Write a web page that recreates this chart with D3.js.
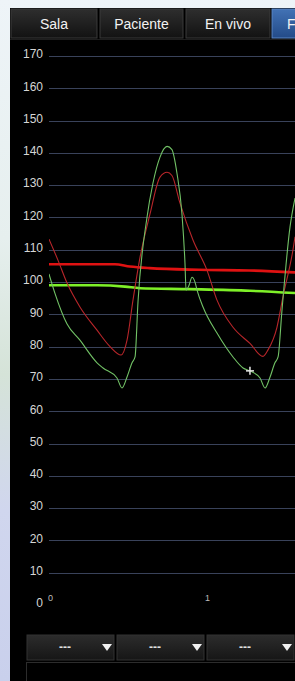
<!DOCTYPE html>
<html lang="es">
<head>
<meta charset="utf-8">
<title>En vivo</title>
<script src="https://d3js.org/d3.v7.min.js"></script>
<style>
  body { margin: 0; padding: 0; background: #eef3f6; overflow: hidden; }
  svg { display: block; font-family: "Liberation Sans", Arial, sans-serif; }
</style>
</head>
<body>
<script>
// tabs and axis
var tabs = ["Sala", "Paciente", "En vivo", "F"];
var yTicks = [0, 10, 20, 30, 40, 50, 60, 70, 80, 90, 100, 110, 120, 130, 140, 150, 160, 170];
var xTicks = [0, 1];
var dropdowns = ["---", "---", "---"];

// thin red waveform (time s, value)
var redT = [0, 0.057, 0.115, 0.197, 0.306, 0.389, 0.459, 0.497, 0.535, 0.580, 0.643, 0.707, 0.752, 0.783, 0.834, 0.917, 1.006, 1.070, 1.172, 1.280, 1.363, 1.395, 1.452, 1.490, 1.554, 1.567];
var redV = [113.3, 106.8, 99.7, 92.3, 85.1, 80, 77.4, 82, 94.4, 107.7, 121, 132.5, 134, 133, 124.5, 113, 103.7, 94.4, 86, 81, 77, 79, 86, 95.4, 110, 114];

// thin green waveform
var greenT = [0, 0.038, 0.115, 0.197, 0.306, 0.344, 0.433, 0.465, 0.497, 0.529, 0.548, 0.567, 0.624, 0.662, 0.707, 0.752, 0.783, 0.815, 0.847, 0.866, 0.873, 0.892, 0.911, 0.930, 0.943, 0.981, 1.070, 1.172, 1.236, 1.280, 1.344, 1.376, 1.408, 1.439, 1.459, 1.484, 1.535, 1.567];
var greenV = [102.5, 96.5, 87, 82, 75, 73.4, 70.3, 67.2, 70.6, 75, 76.8, 94, 120, 130.6, 138.7, 142, 141, 133.7, 121, 106, 97.5, 99, 101.5, 100, 97.5, 92.3, 84.2, 76.8, 73.4, 72.5, 70.3, 67.2, 70.6, 75, 76.8, 91.3, 117, 126];

// thick trend lines
var redMeanT = [0, 0.420, 0.515, 0.640, 0.955, 1.274, 1.567];
var redMeanV = [105.5, 105.5, 104.8, 104.3, 103.8, 103.6, 103];
var greenMeanT = [0, 0.306, 0.484, 0.580, 0.898, 1.280, 1.567];
var greenMeanV = [99, 99, 98.6, 98.1, 97.8, 97.3, 96.6];

// cursor marker
var markT = [1.280];
var markV = [72.5];

var W = 295, H = 681;
var svg = d3.select("body").append("svg").attr("width", W).attr("height", H);
var defs = svg.append("defs");

var bg = defs.append("linearGradient").attr("id", "bg").attr("x1", 0).attr("y1", 0).attr("x2", 0).attr("y2", 1);
bg.append("stop").attr("offset", "0").attr("stop-color", "#eef4f8");
bg.append("stop").attr("offset", "0.35").attr("stop-color", "#e6efee");
bg.append("stop").attr("offset", "0.55").attr("stop-color", "#d5e3d8");
bg.append("stop").attr("offset", "0.75").attr("stop-color", "#d0d6ee");
bg.append("stop").attr("offset", "1").attr("stop-color", "#c9d0ec");

var tabG = defs.append("linearGradient").attr("id", "tabG").attr("x1", 0).attr("y1", 0).attr("x2", 0).attr("y2", 1);
tabG.append("stop").attr("offset", "0").attr("stop-color", "#2e2e2e");
tabG.append("stop").attr("offset", "1").attr("stop-color", "#121212");

var tabB = defs.append("linearGradient").attr("id", "tabB").attr("x1", 0).attr("y1", 0).attr("x2", 0).attr("y2", 1);
tabB.append("stop").attr("offset", "0").attr("stop-color", "#4272b5");
tabB.append("stop").attr("offset", "1").attr("stop-color", "#234b88");

var ddG = defs.append("linearGradient").attr("id", "ddG").attr("x1", 0).attr("y1", 0).attr("x2", 0).attr("y2", 1);
ddG.append("stop").attr("offset", "0").attr("stop-color", "#2c2c2c");
ddG.append("stop").attr("offset", "1").attr("stop-color", "#161616");

defs.append("clipPath").attr("id", "plotClip")
  .append("rect").attr("x", 49).attr("y", 40).attr("width", W - 49).attr("height", 580);

// background and black panel
svg.append("rect").attr("width", W).attr("height", H).attr("fill", "url(#bg)");
svg.append("rect").attr("x", 10).attr("y", 8).attr("width", W - 10).attr("height", H - 8).attr("fill", "#000");

// tabs
var tabX = [11, 100, 186, 272];
var tabW = [86, 83, 84, 30];
var tg = svg.append("g");
tabs.forEach(function(t, i) {
  tg.append("rect")
    .attr("x", tabX[i]).attr("y", 9).attr("width", tabW[i]).attr("height", 29)
    .attr("fill", i == 3 ? "url(#tabB)" : "url(#tabG)")
    .attr("stroke", i == 3 ? "#5a86c4" : "#3a3a3a").attr("stroke-width", 1);
  tg.append("text")
    .attr("x", i == 3 ? 287 : tabX[i] + tabW[i] / 2).attr("y", 29)
    .attr("text-anchor", i == 3 ? "start" : "middle")
    .attr("fill", "#f2f2f2").attr("font-size", "14px")
    .text(t);
});
svg.append("line").attr("x1", 10).attr("x2", W).attr("y1", 39.5).attr("y2", 39.5).attr("stroke", "#1e1e1e");

// scales
var x = d3.scaleLinear().domain([0, 1]).range([49, 206]);
var y = d3.scaleLinear().domain([0, 170]).range([605, 56]);

// grid
svg.append("g").selectAll("line")
  .data(yTicks.filter(function(d) { return d > 0; }))
  .enter().append("line")
  .attr("x1", 49).attr("x2", W)
  .attr("y1", function(d) { return Math.round(y(d)) + 0.5; })
  .attr("y2", function(d) { return Math.round(y(d)) + 0.5; })
  .attr("stroke", "#39425a").attr("stroke-width", 1);

// y labels
svg.append("g").selectAll("text")
  .data(yTicks).enter().append("text")
  .attr("x", 43).attr("y", function(d) { return y(d) - 2; })
  .attr("dy", "0.36em").attr("text-anchor", "end")
  .attr("fill", "#d6d6d6").attr("font-size", "12px")
  .text(function(d) { return d; });

// x labels (small)
svg.append("g").selectAll("text")
  .data(xTicks).enter().append("text")
  .attr("x", function(d) { return x(d) - 1; }).attr("y", 601)
  .attr("fill", "#bcbcbc").attr("font-size", "9px")
  .text(function(d) { return d; });

function pts(T, V) {
  return T.map(function(t, i) { return [t, V[i]]; });
}
var line = d3.line()
  .x(function(d) { return x(d[0]); })
  .y(function(d) { return y(d[1]); })
  .curve(d3.curveMonotoneX);

var plot = svg.append("g").attr("clip-path", "url(#plotClip)");

plot.append("path").datum(pts(redMeanT, redMeanV))
  .attr("d", line).attr("fill", "none").attr("stroke", "#e01212").attr("stroke-width", 2.6);
plot.append("path").datum(pts(greenMeanT, greenMeanV))
  .attr("d", line).attr("fill", "none").attr("stroke", "#7ef028").attr("stroke-width", 2.6);
plot.append("path").datum(pts(redT, redV))
  .attr("d", line).attr("fill", "none").attr("stroke", "#b8262a").attr("stroke-width", 1.1);
plot.append("path").datum(pts(greenT, greenV))
  .attr("d", line).attr("fill", "none").attr("stroke", "#72c266").attr("stroke-width", 1.1);

// cursor cross
var mk = svg.append("g");
markT.forEach(function(t, i) {
  var cx = x(t), cy = y(markV[i]);
  mk.append("line").attr("x1", cx - 4).attr("x2", cx + 4).attr("y1", cy).attr("y2", cy)
    .attr("stroke", "#e8e8e8").attr("stroke-width", 1.5);
  mk.append("line").attr("x1", cx).attr("x2", cx).attr("y1", cy - 4).attr("y2", cy + 4)
    .attr("stroke", "#e8e8e8").attr("stroke-width", 1.5);
});

// dropdowns
var ddX = [27, 117, 207];
var dg = svg.append("g");
dropdowns.forEach(function(t, i) {
  dg.append("rect")
    .attr("x", ddX[i]).attr("y", 635).attr("width", 87).attr("height", 25)
    .attr("fill", "url(#ddG)").attr("stroke", "#333").attr("stroke-width", 1);
  dg.append("text")
    .attr("x", ddX[i] + 38).attr("y", 651).attr("text-anchor", "middle")
    .attr("fill", "#e0e0e0").attr("font-size", "12px").attr("font-weight", "bold")
    .text(t);
  var tx = ddX[i] + 80;
  dg.append("path")
    .attr("d", "M" + (tx - 5) + ",644L" + (tx + 5) + ",644L" + tx + ",651Z")
    .attr("fill", "#f0f0f0");
});

svg.append("rect").attr("x", 26.5).attr("y", 662.5).attr("width", W - 26).attr("height", 30)
  .attr("fill", "#000").attr("stroke", "#2c2c2c");
</script>
</body>
</html>
